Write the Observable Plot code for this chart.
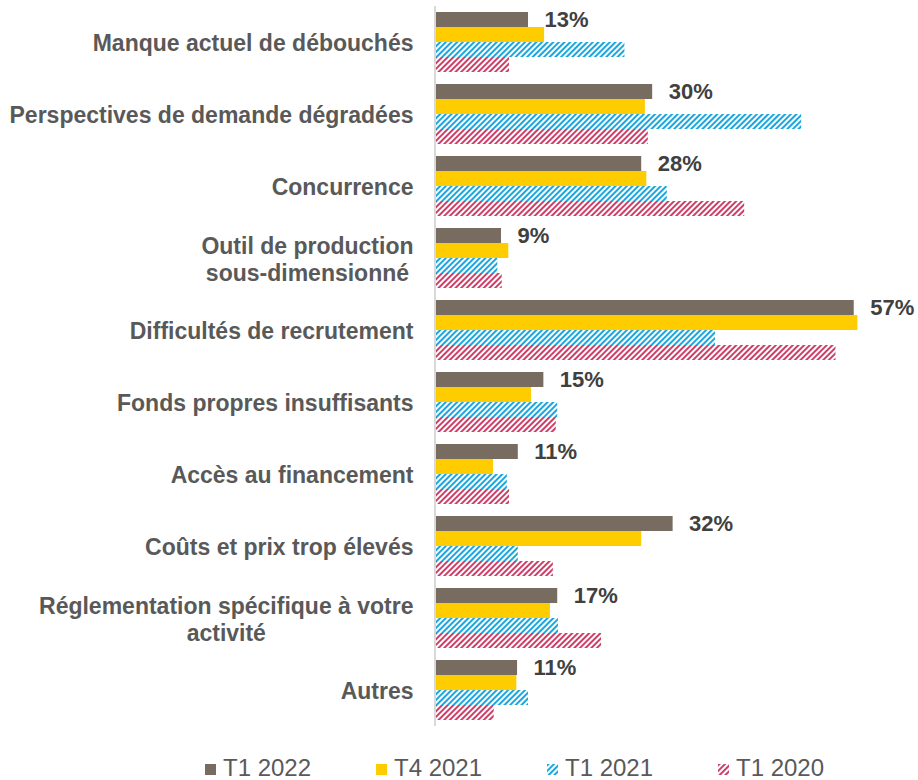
<!DOCTYPE html>
<html>
<head>
<meta charset="utf-8">
<script src="https://cdn.jsdelivr.net/npm/d3@7"></script>
<script src="https://cdn.jsdelivr.net/npm/@observablehq/plot@0.6"></script>
<style>
  html, body { margin: 0; padding: 0; background: #fff; }
  body { width: 918px; height: 780px; overflow: hidden; font-family: "Liberation Sans", Arial, sans-serif; }
  #legend { display: flex; padding-left: 205px; height: 35px; align-items: center; padding-top: 10px; box-sizing: border-box; }
  .item { width: 171px; display: flex; align-items: center; font-size: 24px; color: #595959; }
  .item svg { margin-right: 7px; margin-top: 4px; }
</style>
</head>
<body>
<svg width="0" height="0" style="position:absolute">
  <defs>
    <pattern id="stripeBlue" patternUnits="userSpaceOnUse" width="4" height="4" patternTransform="rotate(45)">
      <rect width="4" height="4" fill="#ffffff"></rect>
      <rect width="2" height="4" fill="#1aa7df"></rect>
    </pattern>
    <pattern id="stripePink" patternUnits="userSpaceOnUse" width="4" height="4" patternTransform="rotate(45)">
      <rect width="4" height="4" fill="#ffffff"></rect>
      <rect width="2" height="4" fill="#cc3f68"></rect>
    </pattern>
  </defs>
</svg>
<div id="chart"></div>
<div id="legend"></div>
<script>
const categories = [
  "Manque actuel de débouchés",
  "Perspectives de demande dégradées",
  "Concurrence",
  "Outil de production\nsous-dimensionné",
  "Difficultés de recrutement",
  "Fonds propres insuffisants",
  "Accès au financement",
  "Coûts et prix trop élevés",
  "Réglementation spécifique à votre\nactivité",
  "Autres"
];
const seriesNames = ["T1 2022", "T4 2021", "T1 2021", "T1 2020"];
const t1_2022 = [12.6, 29.6, 28.1, 8.9, 57.2, 14.7, 11.2, 32.4, 16.6, 11.1];
const t4_2021 = [14.8, 28.6, 28.8, 9.9, 57.7, 13.0, 7.8, 28.1, 15.6, 11.0];
const t1_2021 = [25.8, 50.0, 31.6, 8.4, 38.2, 16.6, 9.7, 11.2, 16.7, 12.6];
const t1_2020 = [10.0, 29.0, 42.2, 9.0, 54.7, 16.4, 10.0, 16.0, 22.6, 7.9];
const seriesColors = ["#786c61", "#ffcc00", "url(#stripeBlue)", "url(#stripePink)"];

const seriesValues = [t1_2022, t4_2021, t1_2021, t1_2020];
const rows = [];
categories.forEach((c, i) => {
  seriesNames.forEach((s, j) => rows.push({category: c, series: s, value: seriesValues[j][i]}));
});
const labelRows = rows.filter(d => d.series === seriesNames[0]);

// measure multi-line labels so their lines can be centred like the original
const ctx = document.createElement("canvas").getContext("2d");
ctx.font = "bold 23px 'Liberation Sans', Arial, sans-serif";
const labelGap = 23;
const categoryMarks = categories.map(c => {
  const lines = c.split("\n");
  const common = {fy: d => d, text: d => d, frameAnchor: "left", lineHeight: 1.17,
                  fontSize: 23, fontWeight: "bold", fill: "#595959"};
  if (lines.length === 1) {
    return Plot.text([c], {...common, textAnchor: "end", dx: -labelGap});
  }
  const w = Math.max(...lines.map(l => ctx.measureText(l).width));
  return Plot.text([c], {...common, textAnchor: "middle", dx: -labelGap - w / 2});
});

const chart = Plot.plot({
  width: 918,
  height: 745,
  marginLeft: 436,
  marginRight: 0,
  marginTop: 12,
  marginBottom: 25,
  style: {fontFamily: "'Liberation Sans', Arial, sans-serif", background: "#fff", overflow: "visible"},
  x: {domain: [0, 66], axis: null},
  y: {domain: seriesNames, padding: 0, axis: null},
  fy: {domain: categories, paddingInner: 1/6, paddingOuter: 0, axis: null},
  color: {domain: seriesNames, range: seriesColors},
  marks: [
    Plot.barX(rows, {x: "value", y: "series", fy: "category", fill: "series"}),
    Plot.ruleX([0], {stroke: "#d9d9d9", strokeWidth: 2, insetTop: -6, insetBottom: -6, dx: -1.5}),
    Plot.text(labelRows, {
      x: "value", y: "series", fy: "category",
      text: d => Math.round(d.value) + "%",
      dx: 16, textAnchor: "start",
      fontSize: 22, fontWeight: "bold", fill: "#404040"
    }),
    ...categoryMarks
  ]
});
document.getElementById("chart").appendChild(chart);

const legend = document.getElementById("legend");
seriesNames.forEach((s, i) => {
  const item = document.createElement("div");
  item.className = "item";
  item.innerHTML = `<svg width="11" height="11"><rect width="11" height="11" fill="${seriesColors[i]}"></rect></svg><span>${s}</span>`;
  legend.appendChild(item);
});
</script>
</body>
</html>
